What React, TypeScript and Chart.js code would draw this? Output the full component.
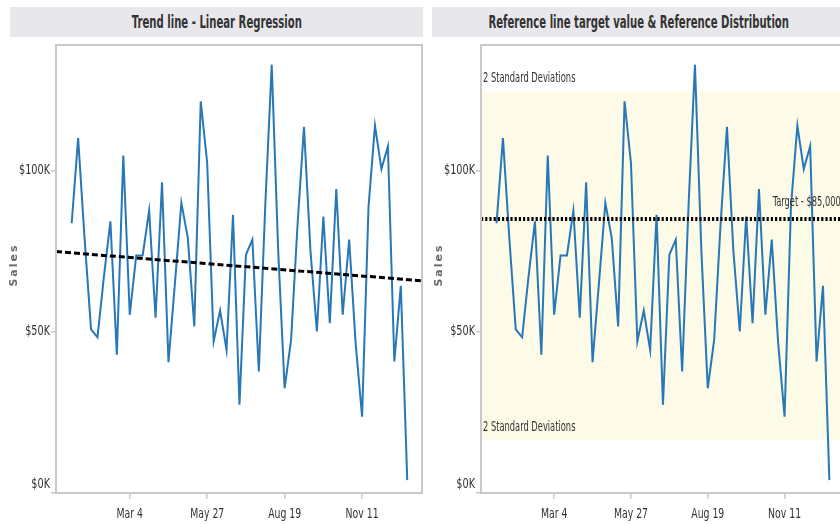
import React, { useEffect, useRef } from "react";
import { Chart, registerables } from "chart.js";
Chart.register(...registerables);

const COND = "'DejaVu Sans Condensed', 'Liberation Sans Narrow', 'Arial Narrow', sans-serif";

// Weekly categories (week starting)
const weekDates = [
  "2012-01-01", "2012-01-08", "2012-01-15", "2012-01-22", "2012-01-29",
  "2012-02-05", "2012-02-12", "2012-02-19", "2012-02-26", "2012-03-04",
  "2012-03-11", "2012-03-18", "2012-03-25", "2012-04-01", "2012-04-08",
  "2012-04-15", "2012-04-22", "2012-04-29", "2012-05-06", "2012-05-13",
  "2012-05-20", "2012-05-27", "2012-06-03", "2012-06-10", "2012-06-17",
  "2012-06-24", "2012-07-01", "2012-07-08", "2012-07-15", "2012-07-22",
  "2012-07-29", "2012-08-05", "2012-08-12", "2012-08-19", "2012-08-26",
  "2012-09-02", "2012-09-09", "2012-09-16", "2012-09-23", "2012-09-30",
  "2012-10-07", "2012-10-14", "2012-10-21", "2012-10-28", "2012-11-04",
  "2012-11-11", "2012-11-18", "2012-11-25", "2012-12-02", "2012-12-09",
  "2012-12-16", "2012-12-23", "2012-12-30",
];

const sales = [
  83700, 110100, 79000, 50800, 48300, 67200, 84300, 42900, 104700, 55300,
  73700, 73700, 87600, 54400, 96400, 40600, 65100, 90000, 79100, 51700,
  121500, 102400, 47000, 56600, 44400, 86300, 27400, 73900, 78600, 37700,
  89300, 132900, 75200, 32500, 47500, 83300, 113600, 75200, 50100, 85800,
  52700, 94300, 55300, 78600, 46500, 23700, 88900, 114000, 100500, 107600,
  40800, 64300, 4000,
];

const xDomain = ["2011-12-15", "2013-01-15"];
const xTickDates = ["2012-03-04", "2012-05-27", "2012-08-19", "2012-11-11"];
const xTickLabels = ["Mar 4", "May 27", "Aug 19", "Nov 11"];
const yTickValues = [0, 50000, 100000];
const yTickLabels = ["$0K", "$50K", "$100K"];
const yMax = 139000;

const trendValues = [74900, 65850];
const targetValue = 85000;
const bandUpper = 124600;
const bandLower = 16500;
const targetLabelDate = "2012-10-29";

const titles = ["Trend line - Linear Regression", "Reference line target value & Reference Distribution"];

const BASE = Date.parse("2012-01-01");
const dayIndex = (d: string) => (Date.parse(d) - BASE) / 86400000;

const salesPoints = weekDates.map((d, i) => ({ x: dayIndex(d), y: sales[i] }));
const domainX = xDomain.map(dayIndex);

const LINE_COLOR = "#2878b8";
const AXIS_COLOR = "#c9c9c9";
const TEXT_COLOR = "#333333";

function drawText(ctx: any, text: string, x: number, y: number, size: number, sx: number, align: string, weight = "normal") {
  ctx.save();
  ctx.translate(x, y);
  ctx.scale(sx, 1);
  ctx.font = `${weight} ${size}px ${COND}`;
  ctx.textAlign = align;
  ctx.textBaseline = "middle";
  ctx.fillText(text, 0, 0);
  ctx.restore();
}

function makeScales() {
  return {
    x: {
      type: "linear" as const,
      min: domainX[0],
      max: domainX[1],
      afterBuildTicks: (s: any) => {
        s.ticks = xTickDates.map((d) => ({ value: dayIndex(d) }));
      },
      afterFit: (s: any) => {
        s.height = 31;
      },
      ticks: { display: false },
      grid: { display: true, drawOnChartArea: false, drawTicks: true, tickLength: 6, color: AXIS_COLOR, lineWidth: 1.5 },
      border: { display: false },
    },
    y: {
      type: "linear" as const,
      min: 0,
      max: yMax,
      afterBuildTicks: (s: any) => {
        s.ticks = yTickValues.map((v) => ({ value: v }));
      },
      afterFit: (s: any) => {
        s.width = 56;
      },
      ticks: { display: false },
      grid: { display: true, drawOnChartArea: false, drawTicks: true, tickLength: 5, color: AXIS_COLOR, lineWidth: 1.5 },
      border: { display: false },
    },
  };
}

const framePlugin = {
  id: "frame",
  afterDraw(chart: any) {
    const { ctx, chartArea: a, scales } = chart;
    ctx.save();
    ctx.strokeStyle = AXIS_COLOR;
    ctx.lineWidth = 2;
    ctx.strokeRect(a.left, a.top, a.right - a.left, a.bottom - a.top);
    ctx.fillStyle = TEXT_COLOR;
    // tick labels
    xTickDates.forEach((d, i) => {
      const px = scales.x.getPixelForValue(dayIndex(d));
      drawText(ctx, xTickLabels[i], px, a.bottom + 21, 14, 0.74, "center");
    });
    yTickValues.forEach((v, i) => {
      const py = Math.min(scales.y.getPixelForValue(v), a.bottom - 9);
      drawText(ctx, yTickLabels[i], a.left - 6, py, 14, 0.77, "right");
    });
    // axis title "Sales"
    ctx.translate(14, (a.top + a.bottom) / 2 - 4);
    ctx.rotate(-Math.PI / 2);
    ctx.fillStyle = "#6a6a6a";
    ctx.font = "bold 11px 'DejaVu Sans', sans-serif";
    try {
      (ctx as any).letterSpacing = "2px";
    } catch (e) {}
    ctx.textAlign = "center";
    ctx.textBaseline = "middle";
    ctx.fillText("Sales", 0, 0);
    ctx.restore();
  },
};

const refLabelsPlugin = {
  id: "refLabels",
  afterDatasetsDraw(chart: any) {
    const { ctx, chartArea: a, scales } = chart;
    const y = scales.y;
    const x = scales.x;
    ctx.save();
    ctx.fillStyle = TEXT_COLOR;
    drawText(ctx, "2 Standard Deviations", a.left + 2, y.getPixelForValue(bandUpper) - 13, 14, 0.66, "left");
    drawText(ctx, "2 Standard Deviations", a.left + 2, y.getPixelForValue(bandLower) - 12, 14, 0.66, "left");
    drawText(ctx, "Target - $85,000", x.getPixelForValue(dayIndex(targetLabelDate)), y.getPixelForValue(targetValue) - 17, 14, 0.66, "left");
    ctx.restore();
  },
};

function LeftChart() {
  const ref = useRef<HTMLCanvasElement>(null);
  useEffect(() => {
    const chart = new Chart(ref.current!, {
      type: "line",
      data: {
        datasets: [
          {
            label: "Trend",
            data: domainX.map((x, i) => ({ x, y: trendValues[i] })),
            borderColor: "#000000",
            borderWidth: 3,
            borderDash: [6, 3],
            pointRadius: 0,
            fill: false,
            order: 0,
          },
          {
            label: "Sales",
            data: salesPoints,
            borderColor: LINE_COLOR,
            borderWidth: 2,
            pointRadius: 0,
            tension: 0,
            fill: false,
            order: 1,
          },
        ],
      },
      options: {
        responsive: false,
        animation: false,
        layout: { padding: { top: 5, right: 3, left: 0, bottom: 0 } },
        plugins: { legend: { display: false }, tooltip: { enabled: false }, title: { display: false } },
        scales: makeScales() as any,
      },
      plugins: [framePlugin],
    });
    return () => chart.destroy();
  }, []);
  return <canvas ref={ref} width={425} height={484} style={{ position: "absolute", left: 0, top: 40, width: 425, height: 484 }} />;
}

function RightChart() {
  const ref = useRef<HTMLCanvasElement>(null);
  useEffect(() => {
    const chart = new Chart(ref.current!, {
      type: "line",
      data: {
        datasets: [
          {
            label: "Sales",
            data: salesPoints,
            borderColor: LINE_COLOR,
            borderWidth: 2,
            pointRadius: 0,
            tension: 0,
            fill: false,
            order: 1,
          },
          {
            label: "Target",
            data: domainX.map((x) => ({ x, y: targetValue })),
            borderColor: "#000000",
            borderWidth: 4,
            borderDash: [2.2, 2],
            pointRadius: 0,
            fill: false,
            order: 0,
          },
          {
            label: "Band upper",
            data: domainX.map((x) => ({ x, y: bandUpper })),
            borderWidth: 0,
            borderColor: "rgba(0,0,0,0)",
            backgroundColor: "rgb(253,250,231)",
            pointRadius: 0,
            fill: "+1",
            order: 3,
          },
          {
            label: "Band lower",
            data: domainX.map((x) => ({ x, y: bandLower })),
            borderWidth: 0,
            borderColor: "rgba(0,0,0,0)",
            pointRadius: 0,
            fill: false,
            order: 4,
          },
        ],
      },
      options: {
        responsive: false,
        animation: false,
        layout: { padding: { top: 5, right: 1, left: 0, bottom: 0 } },
        plugins: { legend: { display: false }, tooltip: { enabled: false }, title: { display: false } },
        scales: makeScales() as any,
      },
      plugins: [framePlugin, refLabelsPlugin],
    });
    return () => chart.destroy();
  }, []);
  return <canvas ref={ref} width={420} height={484} style={{ position: "absolute", left: 425, top: 40, width: 420, height: 484 }} />;
}

function TitleBar({ left, width, text }: { left: number; width: number; text: string }) {
  return (
    <div
      style={{
        position: "absolute",
        left,
        top: 7,
        width,
        height: 30,
        background: "#e8e8ec",
        display: "flex",
        alignItems: "center",
        justifyContent: "center",
        overflow: "hidden",
      }}
    >
      <span
        style={{
          display: "inline-block",
          fontFamily: COND,
          fontWeight: "bold",
          fontSize: 17,
          color: TEXT_COLOR,
          whiteSpace: "nowrap",
          transform: "scaleX(0.66)",
          transformOrigin: "center",
        }}
      >
        {text}
      </span>
    </div>
  );
}

export default function App() {
  return (
    <div style={{ position: "fixed", left: 0, top: 0, width: 840, height: 524, overflow: "hidden", background: "#ffffff" }}>
      <TitleBar left={10} width={413} text={titles[0]} />
      <TitleBar left={432} width={414} text={titles[1]} />
      <LeftChart />
      <RightChart />
    </div>
  );
}
